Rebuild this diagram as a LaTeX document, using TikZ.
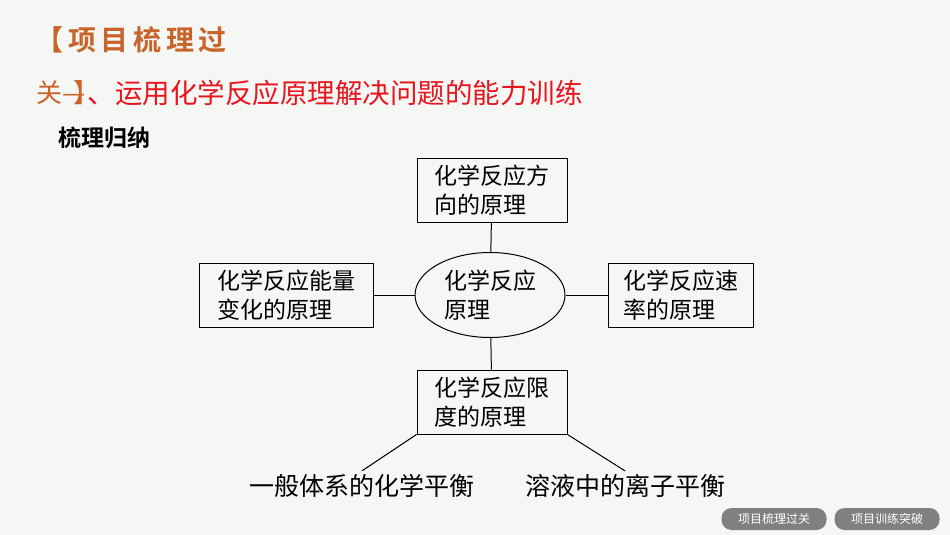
\documentclass[tikz,border=0pt]{standalone}
\usepackage{fontspec}
\setmainfont{Noto Sans CJK SC}
\newfontfamily\cjk{Noto Sans CJK SC}
\newfontfamily\cjkb{Noto Sans CJK SC Bold}
\usetikzlibrary{shapes.geometric}
\definecolor{og}{HTML}{C8642A}
\definecolor{rd}{HTML}{E8141E}
\definecolor{bg}{HTML}{F4F7F4}
\begin{document}
\begin{tikzpicture}[x=1pt,y=-1pt,
  bx/.style={draw,line width=1pt,minimum width=150pt,minimum height=64pt,font=\cjk\fontsize{23}{29}\selectfont,align=left,inner sep=2pt},
  ln/.style={line width=1pt},
  lab/.style={font=\cjk\fontsize{25}{28}\selectfont},
  btn/.style={fill=black!50,rounded corners=10pt,minimum width=105pt,minimum height=22pt,text=white,font=\cjk\fontsize{12}{14}\selectfont,inner sep=0pt}]
\fill[bg] (0,0) rectangle (950,535);
\useasboundingbox (0,0) rectangle (950,535);
\node[anchor=west,text=og,font=\cjkb\fontsize{28}{30}\selectfont] (t1) at (32,40) {【\,项\,目\,梳\,理\,过};
\node[anchor=west,text=og,font=\cjk\fontsize{26}{30}\selectfont,inner sep=0pt] (t2) at (36,93) {关—\kern-12pt】\kern-12pt};
\node[anchor=west,text=rd,font=\cjk\fontsize{27.5}{30}\selectfont,inner sep=0pt] (t3) at (t2.east) {、运用化学反应原理解决问题的能力训练};
\node[anchor=west,font=\cjkb\fontsize{23}{26}\selectfont,inner sep=0pt] (t4) at (58,138) {梳理归纳};
\node[bx] (top) at (492,190) {化学反应方\\向的原理};
\node[bx,minimum width=174pt] (lf) at (286,295) {化学反应能量\\变化的原理};
\node[bx,minimum width=145pt] (rt) at (680.5,295) {化学反应速\\率的原理};
\node[bx] (bt) at (492,402) {化学反应限\\度的原理};
\node[draw,ellipse,line width=1pt,minimum width=150pt,minimum height=85pt,font=\cjk\fontsize{23}{29}\selectfont,align=left,inner sep=0pt] (c) at (490,295) {化学反应\\原理};
\draw[ln] (top) -- (c);
\draw[ln] (lf) -- (c);
\draw[ln] (rt) -- (c);
\draw[ln] (bt) -- (c);
\node[lab] (b1) at (362,486) {一般体系的化学平衡};
\node[lab] (b2) at (625,486) {溶液中的离子平衡};
\draw[ln] (bt.south west) -- (b1.north);
\draw[ln] (bt.south east) -- (b2.north);
\node[btn] (k1) at (774,519) {项目梳理过关};
\node[btn] (k2) at (887,519) {项目训练突破};
\end{tikzpicture}
\end{document}
